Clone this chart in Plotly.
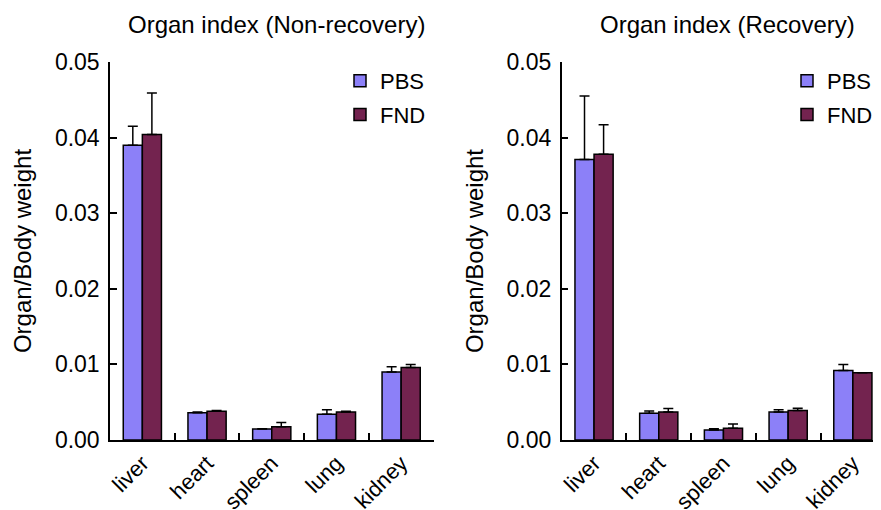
import plotly.graph_objects as go

organs = ["liver", "heart", "spleen", "lung", "kidney"]

# Non-recovery
nr_pbs = [0.0390, 0.0036, 0.00145, 0.0034, 0.0090]
nr_pbs_top = [0.0415, 0.0037, 0.00150, 0.0040, 0.0097]
nr_fnd = [0.0404, 0.0038, 0.00176, 0.0037, 0.0096]
nr_fnd_top = [0.0459, 0.0039, 0.0023, 0.0038, 0.0100]

# Recovery
r_pbs = [0.0371, 0.00354, 0.00133, 0.0037, 0.0092]
r_pbs_top = [0.0455, 0.00385, 0.0015, 0.0040, 0.0100]
r_fnd = [0.0378, 0.0037, 0.00155, 0.0039, 0.0089]
r_fnd_top = [0.0417, 0.00416, 0.0021, 0.0042, 0.0089]

PBS_COLOR = "#8c80f8"
FND_COLOR = "#73234f"
FONT = "Arial, Liberation Sans, sans-serif"

fig = go.Figure()

def add(vals, tops, name, color, xa, ya, leg):
    fig.add_trace(go.Bar(
        x=organs, y=vals, name=name,
        marker=dict(color=color, line=dict(color="black", width=1.5)),
        error_y=dict(type="data", symmetric=False,
                     array=[t - v for t, v in zip(tops, vals)],
                     arrayminus=[0] * len(vals),
                     color="black", thickness=1.5, width=5),
        xaxis=xa, yaxis=ya, legend=leg, legendgroup=name + leg,
    ))

add(nr_pbs, nr_pbs_top, "PBS", PBS_COLOR, "x", "y", "legend")
add(nr_fnd, nr_fnd_top, "FND", FND_COLOR, "x", "y", "legend")
add(r_pbs, r_pbs_top, "PBS", PBS_COLOR, "x2", "y2", "legend2")
add(r_fnd, r_fnd_top, "FND", FND_COLOR, "x2", "y2", "legend2")

# page has an 8px body margin, so the figure is 8px smaller than the window
W, H = 873, 502
ydom = [1 - 432 / H, 1 - 54 / H]

xcommon = dict(type="category", showline=True, linecolor="black", linewidth=1.5,
               ticks="inside", tickson="boundaries", ticklen=7, tickwidth=1.5,
               tickcolor="black", tickangle=-45, showgrid=False, zeroline=False,
               automargin=False,
               tickfont=dict(size=22, family=FONT, color="black"))
ycommon = dict(range=[0, 0.05], tickvals=[0, 0.01, 0.02, 0.03, 0.04, 0.05],
               tickformat=".2f", showline=True, linecolor="black", linewidth=1.5,
               ticks="inside", ticklen=7, tickwidth=1.5, tickcolor="black",
               showgrid=False, zeroline=False, domain=ydom, automargin=False,
               ticklabelstandoff=4,
               tickfont=dict(size=23, family=FONT, color="black"),
               title=dict(text="Organ/Body weight", standoff=16,
                          font=dict(size=24, family=FONT, color="black")))

legcommon = dict(font=dict(size=22, family=FONT, color="black"), bgcolor="rgba(0,0,0,0)",
                 tracegroupgap=2, itemwidth=30, xanchor="left", yanchor="top")

fig.update_layout(
    template="none",
    width=W, height=H, margin=dict(l=0, r=0, t=0, b=0, autoexpand=False),
    paper_bgcolor="white", plot_bgcolor="white",
    barmode="group", bargap=0.41, bargroupgap=0,
    xaxis=dict(domain=[102 / W, 425.5 / W], range=[-0.5, 4.5], anchor="y", **xcommon),
    xaxis2=dict(domain=[553.7 / W, 1.0], range=[-0.5, 4.435], anchor="y2", **xcommon),
    yaxis=dict(anchor="x", **ycommon),
    yaxis2=dict(anchor="x2", **ycommon),
    legend=dict(x=332 / W, y=1 - 52 / H, **legcommon),
    legend2=dict(x=779 / W, y=1 - 52 / H, **legcommon),
    annotations=[
        dict(text="Organ index (Non-recovery)", x=268 / W, y=1 - 17 / H, xref="paper", yref="paper",
             xanchor="center", yanchor="middle",
             showarrow=False, font=dict(size=24, family=FONT, color="black")),
        dict(text="Organ index (Recovery)", x=719 / W, y=1 - 17 / H, xref="paper", yref="paper",
             xanchor="center", yanchor="middle",
             showarrow=False, font=dict(size=24, family=FONT, color="black")),
    ],
    showlegend=True,
)

fig.write_html("out.html")
